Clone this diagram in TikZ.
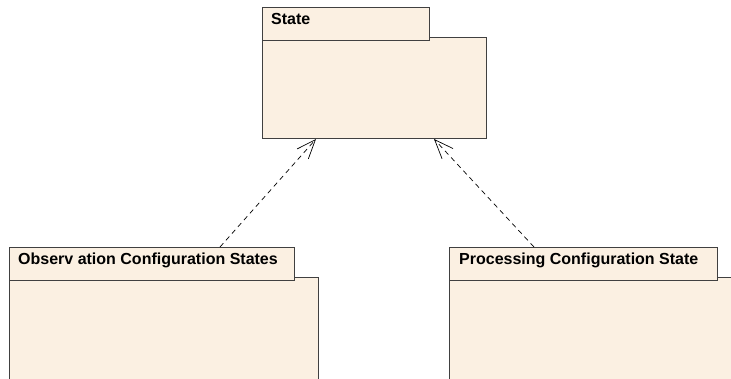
\documentclass[tikz,border=0pt]{standalone}
\usepackage{fontspec}
\setmainfont{Liberation Sans}
\usetikzlibrary{arrows.meta,calc}
\definecolor{pkgfill}{HTML}{FBF0E2}
\definecolor{pkgline}{HTML}{404040}
\tikzset{
  pkgbody/.style={draw=pkgline, fill=pkgfill, line width=1pt, inner sep=0pt, anchor=north west},
  pkgtab/.style={draw=pkgline, fill=pkgfill, line width=1pt, inner sep=0pt, anchor=north west},
  pkglabel/.style={anchor=base west, font=\bfseries\fontsize{16}{18}\selectfont, inner sep=0pt},
  dep/.style={dashed, dash pattern=on 5pt off 4pt, line width=0.7pt, black,
     -{Straight Barb[length=19pt,width=15pt,line width=0.7pt]}}
}
\begin{document}
\begin{tikzpicture}[x=1pt,y=-1pt]
\useasboundingbox (0,0) rectangle (731,378);
\clip (0,0) rectangle (731,378);
% State
\node[pkgbody, minimum width=224pt, minimum height=101pt] (statebody) at (262,37) {};
\node[pkgtab, minimum width=167pt, minimum height=33pt] (statetab) at (262,7) {};
\node[pkglabel] (statelbl) at (271,24) {State};
% Observation
\node[pkgbody, minimum width=309pt, minimum height=130pt] (obsbody) at (9,277) {};
\node[pkgtab, minimum width=285pt, minimum height=33pt] (obstab) at (9,247) {};
\node[pkglabel] (obslbl) at (18,264) {Observ ation Configuration States};
% Processing
\node[pkgbody, minimum width=320pt, minimum height=130pt] (procbody) at (449,277) {};
\node[pkgtab, minimum width=268pt, minimum height=33pt] (proctab) at (449,247) {};
\node[pkglabel] (proclbl) at (459,264) {Processing Configuration State};
% dependencies
\draw[dep] ($(obstab.north west)+(211,0)$) -- ($(statebody.south west)+(54,0)$);
\draw[dep] ($(proctab.north west)+(85,0)$) -- ($(statebody.south west)+(172,0)$);
\end{tikzpicture}
\end{document}
